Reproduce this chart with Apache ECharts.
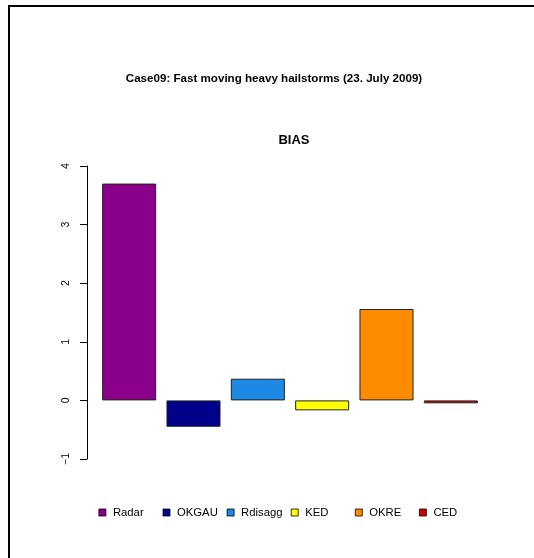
<!DOCTYPE html>
<html>
<head>
<meta charset="utf-8">
<script src="https://cdn.jsdelivr.net/npm/echarts@6/dist/echarts.min.js"></script>
<style>
  html, body { margin: 0; padding: 0; background: #fff; }
  #chart { width: 534px; height: 558px; }
</style>
</head>
<body>
<div id="chart"></div>
<script>
// BIAS per method, case 09
const methods = ['Radar', 'OKGAU', 'Rdisagg', 'KED', 'OKRE', 'CED'];
const biasValues = [3.7, -0.45, 0.37, -0.17, 1.56, -0.05];
const methodColors = ['#8B008B', '#00008B', '#1E88E5', '#FFFF00', '#FF8C00', '#CC0000'];
const yTicks = [-1, 0, 1, 2, 3, 4];

const chart = echarts.init(document.getElementById('chart'), null, { renderer: 'canvas' });

const FONT = 'Liberation Sans, Arial, Helvetica, sans-serif';

// one legend per method, laid out on a fixed pitch like the bars
const legends = methods.map((m, i) => ({
  data: [m],
  left: 98.5 + i * 64.1,
  top: 507,
  padding: 0,
  orient: 'horizontal',
  itemWidth: 7,
  itemHeight: 7,
  itemGap: 0,
  icon: 'rect',
  textStyle: { fontFamily: FONT, fontSize: 11.3, color: '#000', padding: [0, 0, 0, 2] },
  itemStyle: { color: methodColors[i], borderColor: '#000', borderWidth: 0.8 },
  selectedMode: false
}));

const option = {
  animation: false,
  backgroundColor: '#fff',
  textStyle: { fontFamily: FONT },
  title: [
    {
      text: 'Case09: Fast moving heavy hailstorms (23. July 2009)',
      left: 269, top: 68, textAlign: 'center',
      textStyle: { fontFamily: FONT, fontSize: 11.6, fontWeight: 'bold', color: '#000' }
    },
    {
      text: 'BIAS',
      left: 289, top: 129, textAlign: 'center',
      textStyle: { fontFamily: FONT, fontSize: 13, fontWeight: 'bold', color: '#000' }
    }
  ],
  legend: legends,
  grid: { left: 97, right: 51, top: 166, bottom: 99, containLabel: false },
  xAxis: {
    type: 'category',
    data: methods,
    show: false
  },
  yAxis: {
    type: 'value',
    min: yTicks[0], max: yTicks[yTicks.length - 1], interval: 1,
    offset: 10,
    axisLine: { show: true, lineStyle: { color: '#000', width: 1 } },
    axisTick: { show: true, length: 7, lineStyle: { color: '#000', width: 1 } },
    splitLine: { show: false },
    axisLabel: {
      rotate: 90,
      margin: 15,
      color: '#000',
      fontFamily: FONT,
      fontSize: 10.5,
      formatter: v => (v < 0 ? '\u2212' + Math.abs(v) : String(v))
    }
  },
  // one series per method so each gets its own legend entry; stacking keeps bars centred
  series: methods.map((m, i) => ({
    name: m,
    type: 'bar',
    stack: 'all',
    barCategoryGap: '16%',
    data: methods.map((_, j) => (j === i ? biasValues[i] : null)),
    itemStyle: { color: methodColors[i], borderColor: '#222', borderWidth: 1 }
  })),
  graphic: [{
    type: 'rect',
    shape: { x: 9, y: 6, width: 620, height: 620 },
    style: { fill: 'none', stroke: '#000', lineWidth: 2 },
    silent: true
  }]
};

chart.setOption(option);
</script>
</body>
</html>
